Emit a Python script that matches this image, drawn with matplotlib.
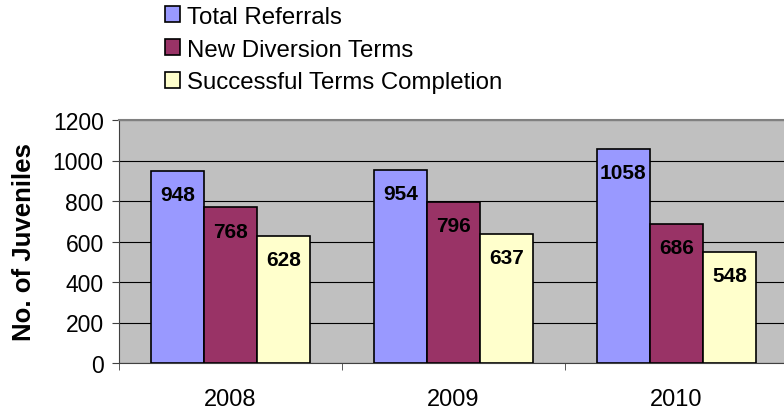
import numpy as np
import matplotlib.pyplot as plt

plt.rcParams['font.family'] = ['Liberation Sans', 'DejaVu Sans']

years = ['2008', '2009', '2010']
series_names = ['Total Referrals', 'New Diversion Terms', 'Successful Terms Completion']
total_referrals = [948, 954, 1058]
new_diversion = [768, 796, 686]
successful_completion = [628, 637, 548]
colors = ['#9999FF', '#993366', '#FFFFCC']

fig = plt.figure(figsize=(7.84, 4.10), dpi=100)
ax = fig.add_axes([119 / 784, 1 - 364 / 410, 669 / 784, 243 / 410])
ax.set_facecolor('#C0C0C0')

x = np.arange(len(years))
width = 0.238
all_series = [total_referrals, new_diversion, successful_completion]
for i, (vals, name, c) in enumerate(zip(all_series, series_names, colors)):
    pos = x + (i - 1) * width
    bars = ax.bar(pos, vals, width, color=c, edgecolor='black', linewidth=1.2,
                  label=name, zorder=3)
    for b, v in zip(bars, vals):
        ax.annotate(str(v), (b.get_x() + b.get_width() / 2, v),
                    xytext=(0, -17), textcoords='offset points',
                    ha='center', va='center', fontsize=15, fontweight='bold',
                    zorder=4)

ax.set_xlim(-0.5, 2.5)
ax.set_ylim(0, 1200)
ax.set_yticks(range(0, 1201, 200))
ax.yaxis.grid(True, color='black', linewidth=0.8, zorder=1)
ax.set_axisbelow(True)

ax.set_xticks(x)
ax.set_xticklabels(years, fontsize=17)
ax.set_xticks([-0.5, 0.5, 1.5, 2.5], minor=True)
ax.tick_params(axis='x', which='major', length=0, pad=18)
ax.tick_params(axis='x', which='minor', length=5, color='#404040')
ax.tick_params(axis='y', labelsize=16.5, length=5, color='#404040', pad=6)

ax.spines['right'].set_visible(False)
ax.spines['top'].set_color('#808080')
ax.spines['top'].set_linewidth(1.5)
ax.spines['left'].set_color('#404040')
ax.spines['bottom'].set_color('#404040')

ax.set_ylabel('No. of Juveniles', fontsize=18.5, fontweight='bold', labelpad=12)

fig.legend(loc='upper left', bbox_to_anchor=(155 / 784, 1.007), frameon=False,
           fontsize=17.3, handlelength=0.65, handleheight=0.65,
           handletextpad=0.3, labelspacing=0.45, borderaxespad=0)

fig.savefig('out.png', dpi=100)
